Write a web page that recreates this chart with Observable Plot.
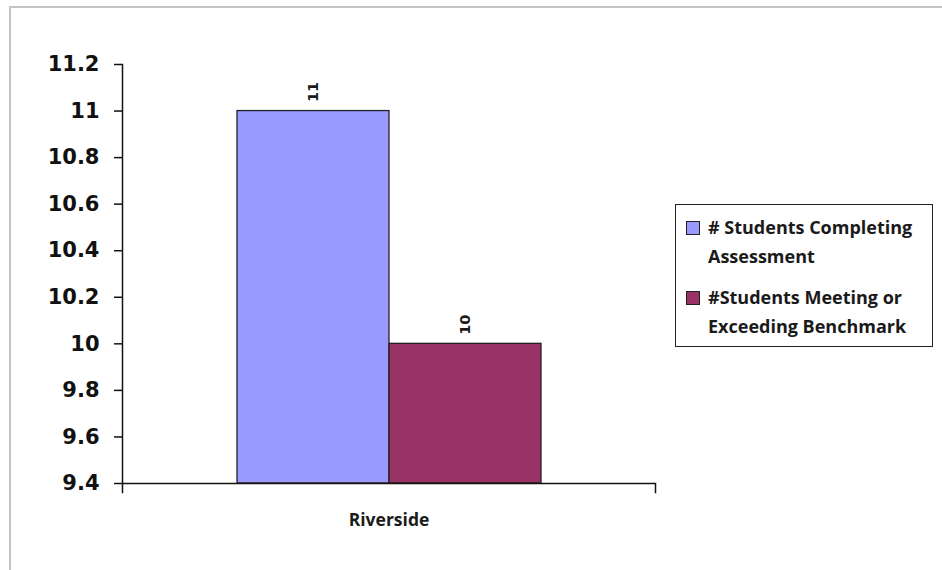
<!DOCTYPE html>
<html>
<head>
<meta charset="utf-8">
<script src="https://cdn.jsdelivr.net/npm/d3@7"></script>
<script src="https://cdn.jsdelivr.net/npm/@observablehq/plot@0.6"></script>
<style>
  html, body { margin: 0; padding: 0; background: #fff; overflow: hidden; }
  #wrap { position: relative; width: 942px; height: 570px; }
  #border { position: absolute; left: 9px; top: 6px; width: 1000px; height: 700px;
            border-left: 2px solid #c4c4c4; border-top: 2px solid #c4c4c4; }
  #chart { position: absolute; left: 0; top: 0; }
  #legend { position: absolute; left: 675px; top: 204px; width: 256px; height: 141px;
            border: 1.5px solid #222; background: #fff;
            font-family: "Open Sans", sans-serif; font-weight: 700; font-size: 18px;
            color: #1a1a1a; line-height: 29px; }
  .item { position: absolute; left: 10px; }
  .sw { position: absolute; left: 0; top: 8px; width: 12px; height: 12px; border: 1px solid #222; }
  .lbl { position: absolute; left: 22px; white-space: nowrap; }
</style>
</head>
<body>
<div id="wrap">
  <div id="border"></div>
  <div id="chart"></div>
  <div id="legend"></div>
</div>
<script>
const categories = ["Riverside"];
const seriesNames = ["# Students Completing Assessment", "#Students Meeting or Exceeding Benchmark"];
const seriesLines = [["# Students Completing", "Assessment"], ["#Students Meeting or", "Exceeding Benchmark"]];
const seriesColors = ["#9999FF", "#993366"];
const completing = [11];
const meeting = [10];
const yDomain = [9.4, 11.2];
const yTicks = [9.4, 9.6, 9.8, 10, 10.2, 10.4, 10.6, 10.8, 11, 11.2];

const data = [];
categories.forEach((c, i) => {
  data.push({category: c, series: seriesNames[0], value: completing[i]});
  data.push({category: c, series: seriesNames[1], value: meeting[i]});
});

const chart = Plot.plot({
  width: 942,
  height: 570,
  marginLeft: 122,
  marginRight: 287,
  marginTop: 64,
  marginBottom: 87,
  style: {background: "transparent", color: "#111", fontFamily: "DejaVu Sans, sans-serif"},
  fx: {domain: categories, padding: 0, label: null},
  x: {domain: seriesNames, paddingInner: 0, paddingOuter: 0.753, axis: null},
  y: {domain: yDomain, label: null},
  color: {domain: seriesNames, range: seriesColors},
  marks: [
    Plot.barY(data, {fx: "category", x: "series", y1: yDomain[0], y2: "value", fill: "series",
                     stroke: "#222", strokeWidth: 1.3}),
    Plot.text(data, {fx: "category", x: "series", y: "value", text: d => String(d.value),
                     rotate: -90, textAnchor: "start", lineAnchor: "middle", dy: -9,
                     fontWeight: "bold", fontSize: 14.5, fill: "#1a1a1a"}),
    Plot.axisY({ticks: yTicks, tickSize: 8, tickPadding: 15, tickFormat: d => String(+d.toFixed(1)),
                fontSize: 21, fontWeight: "bold", stroke: "#111", strokeWidth: 1.5}),
    Plot.axisFx({anchor: "bottom", tickSize: 0, tickPadding: 30, fontSize: 17.5, fontWeight: "bold",
                 fontFamily: "Open Sans, sans-serif", fill: "#1a1a1a", label: null}),
    Plot.frame({anchor: "left", insetBottom: -9, stroke: "#111", strokeWidth: 1.5}),
    Plot.frame({anchor: "right", insetTop: 419, insetBottom: -9, stroke: "#111", strokeWidth: 1.5}),
    Plot.ruleY([yDomain[0]], {stroke: "#111", strokeWidth: 1.5})
  ]
});
document.getElementById("chart").appendChild(chart);

const legend = document.getElementById("legend");
const tops = [8, 78];
seriesLines.forEach((lines, i) => {
  const item = document.createElement("div");
  item.className = "item";
  item.style.top = tops[i] + "px";
  const sw = document.createElement("div");
  sw.className = "sw";
  sw.style.background = seriesColors[i];
  item.appendChild(sw);
  lines.forEach((t, j) => {
    const l = document.createElement("div");
    l.className = "lbl";
    l.style.top = (j * 29) + "px";
    l.textContent = t;
    item.appendChild(l);
  });
  legend.appendChild(item);
});
</script>
</body>
</html>
